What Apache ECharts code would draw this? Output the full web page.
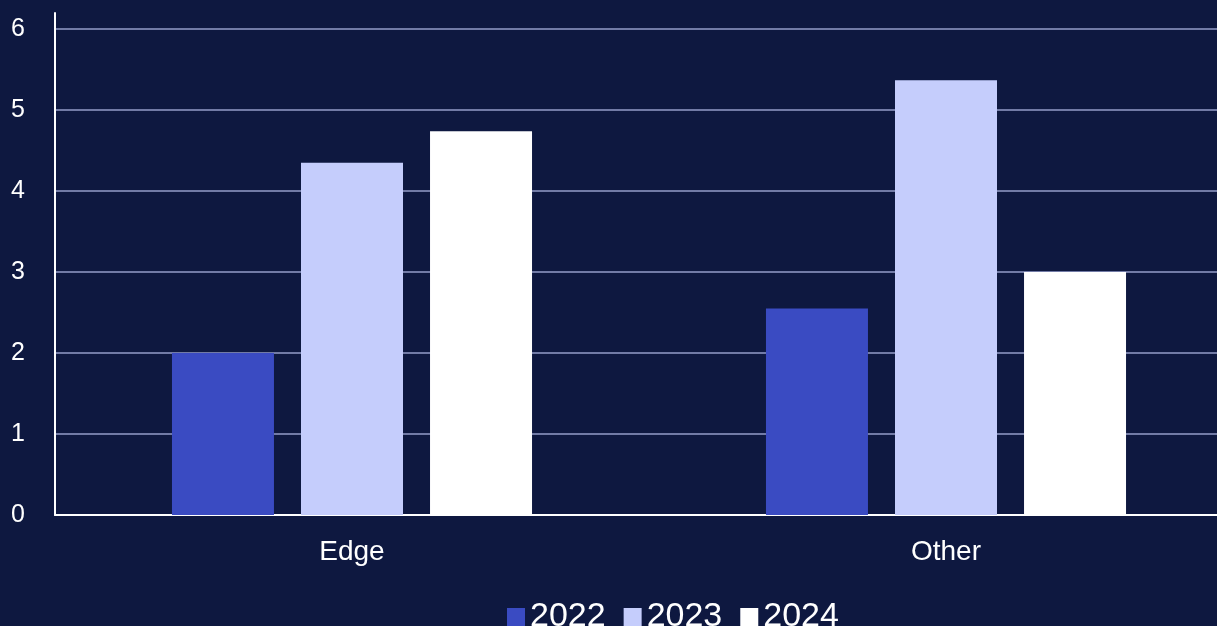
<!DOCTYPE html>
<html><head><meta charset="utf-8">
<script src="https://cdn.jsdelivr.net/npm/echarts@6/dist/echarts.min.js"></script>
<style>html,body{margin:0;padding:0;background:#0e1840;overflow:hidden;width:1217px;height:626px;}#c{width:1243px;height:626px;}</style>
</head><body><div id="c"></div>
<script>
const categories = ['Edge', 'Other'];
const seriesNames = ['2022', '2023', '2024'];
const values2022 = [2.0, 2.55];
const values2023 = [4.35, 5.37];
const values2024 = [4.74, 3.0];
const colors = ['#3a4bc2', '#c5cdfc', '#ffffff'];
const yTicks = [0, 1, 2, 3, 4, 5, 6];

const chart = echarts.init(document.getElementById('c'), null, {renderer: 'canvas'});
const font = '"Liberation Sans", Arial, sans-serif';
const data = [values2022, values2023, values2024];
chart.setOption({
  backgroundColor: '#0e1840',
  animation: false,
  grid: {left: 55, right: 0, top: 13, bottom: 111, containLabel: false},
  legend: {
    data: seriesNames, left: 502, top: 595, itemWidth: 18, itemHeight: 18, itemGap: 18,
    icon: 'rect', textStyle: {color: '#ffffff', fontSize: 34, fontFamily: font}
  },
  xAxis: {
    type: 'category', data: categories,
    axisLine: {show: true, lineStyle: {color: '#ffffff', width: 2}},
    axisTick: {show: false},
    axisLabel: {color: '#ffffff', fontSize: 28, fontFamily: font, margin: 23}
  },
  yAxis: {
    type: 'value', min: 0, max: 6.2, interval: 1,
    axisLine: {show: true, lineStyle: {color: '#ffffff', width: 2}},
    axisTick: {show: false},
    axisLabel: {color: '#ffffff', fontSize: 25, fontFamily: font, margin: 30, showMaxLabel: false,
      formatter: v => yTicks.includes(v) ? String(v) : ''},
    splitLine: {show: true, showMaxLine: false, lineStyle: {color: '#959cc8', width: 1.5}}
  },
  series: seriesNames.map((n, i) => ({
    name: n, type: 'bar', data: data[i], barWidth: 102, barGap: '26.5%',
    itemStyle: {color: colors[i]}
  }))
});
</script></body></html>
